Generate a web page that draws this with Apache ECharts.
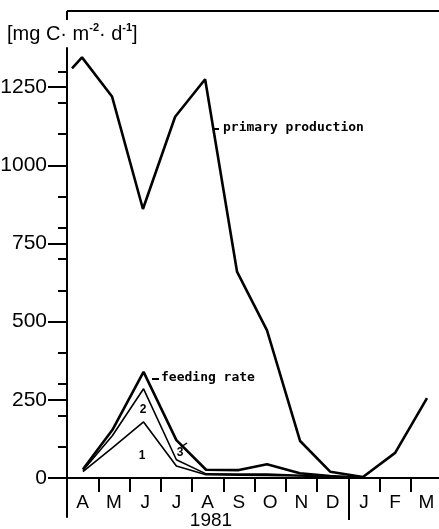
<!DOCTYPE html>
<html>
<head>
<meta charset="utf-8">
<script src="https://cdn.jsdelivr.net/npm/echarts@6/dist/echarts.min.js"></script>
<style>html,body{margin:0;padding:0;background:#fff}#c{width:439px;height:529px}</style>
</head>
<body>
<div id="c"></div>
<script>
// Time in months since 1 April 1981
var monthLabels = ['A','M','J','J','A','S','O','N','D','J','F','M'];
var yTickLabels = [0, 250, 500, 750, 1000, 1250];
var yMinorTicks = [100, 200, 300, 400, 600, 700, 800, 900, 1100, 1200, 1300];

var ppTime  = [0.16, 0.48, 1.44, 2.43, 3.46, 4.42, 5.44, 6.40, 7.46, 8.42, 9.47, 10.50, 11.52];
var ppValue = [1310, 1345, 1220, 860, 1155, 1275, 660, 472, 118, 20, 3, 80, 255];

var frTime   = [0.51, 1.45, 2.45, 3.5, 4.45, 5.5, 6.4, 7.45, 8.42, 9.2];
var frTotal  = [28, 153, 339, 121, 26, 25, 44, 15, 6, 2];
var fr2      = [24, 135, 285, 58, 13, 12, 12, 8, 4, 1];
var fr1      = [20, 96, 179, 38, 10, 9, 8, 6, 3, 1];

function pairs(t, v) { return t.map(function (x, i) { return [x, v[i]]; }); }

var chart = echarts.init(document.getElementById('c'));
var F = 'Liberation Sans, Arial, sans-serif';
var MONO = 'DejaVu Sans Mono, monospace';
var ZERO_OFFSET = -39; // distance from grid bottom (value -125) up to value 0

chart.setOption({
  animation: false,
  grid: { left: 67, top: 48, width: 375, height: 469, outerBoundsMode: 'none', containLabel: false },
  xAxis: [{
    type: 'value', min: 0, max: 12, position: 'bottom',
    axisLine: { show: true, onZero: true, lineStyle: { color: '#000', width: 2 } },
    axisTick: { show: true, customValues: [1,2,3,4,5,6,7,8,9,10,11], length: 14, lineStyle: { color: '#000', width: 2 } },
    axisLabel: { show: false },
    splitLine: { show: false }
  }, {
    type: 'value', min: 0, max: 12, position: 'bottom', offset: ZERO_OFFSET,
    axisLine: { show: false, onZero: false },
    axisTick: { show: true, customValues: [9], length: 42, lineStyle: { color: '#000', width: 2 } },
    axisLabel: { show: false },
    splitLine: { show: false }
  }, {
    type: 'category', position: 'bottom', boundaryGap: true, offset: ZERO_OFFSET,
    data: monthLabels.map(function (m, i) { return String(i); }),
    axisLine: { show: false, onZero: false },
    axisTick: { show: false },
    axisLabel: { show: true, interval: 0,
      formatter: function (v) { return monthLabels[+v]; },
      color: '#000', fontFamily: F, fontSize: 19, margin: 15 },
    splitLine: { show: false }
  }],
  yAxis: [{
    type: 'value', min: -125, max: 1375, position: 'left',
    axisLine: { show: true, onZero: false, lineStyle: { color: '#000', width: 2 } },
    axisTick: { show: true, customValues: yTickLabels, length: 19, lineStyle: { color: '#000', width: 2 } },
    axisLabel: { show: true, customValues: yTickLabels, formatter: function (v) { return String(v); },
      color: '#000', fontFamily: F, fontSize: 21, margin: 20 },
    splitLine: { show: false }
  }, {
    type: 'value', min: -125, max: 1375, position: 'left',
    axisLine: { show: false, onZero: false },
    axisTick: { show: true, customValues: yMinorTicks, length: 9, lineStyle: { color: '#000', width: 2 } },
    axisLabel: { show: false },
    splitLine: { show: false }
  }],
  series: [
    { type: 'line', name: 'primary production', data: pairs(ppTime, ppValue), symbol: 'none',
      lineStyle: { color: '#000', width: 2.6 } },
    { type: 'line', name: 'feeding rate', data: pairs(frTime, frTotal), symbol: 'none',
      lineStyle: { color: '#000', width: 2.6 } },
    { type: 'line', name: '2', data: pairs(frTime, fr2), symbol: 'none',
      lineStyle: { color: '#000', width: 1.6 } },
    { type: 'line', name: '1', data: pairs(frTime, fr1), symbol: 'none',
      lineStyle: { color: '#000', width: 1.6 } }
  ],
  graphic: [
    { type: 'line', shape: { x1: 67, y1: 11, x2: 439, y2: 11 }, style: { stroke: '#000', lineWidth: 2 } },
    { type: 'line', shape: { x1: 67, y1: 11, x2: 67, y2: 20 }, style: { stroke: '#000', lineWidth: 2 } },
    { type: 'text', left: 7, top: 22, style: {
        text: '{a|[mg C· m}{s|-2}{a|· d}{s|-1}{a|]}',
        rich: {
          a: { fontFamily: F, fontSize: 20, fill: '#000', lineHeight: 22, verticalAlign: 'bottom' },
          s: { fontFamily: F, fontSize: 11, fontWeight: 'bold', fill: '#000', lineHeight: 22, verticalAlign: 'top' }
        } } },
    { type: 'text', x: 211, y: 521, style: { text: '1981', fontFamily: F, fontSize: 19, fill: '#000', align: 'center', verticalAlign: 'middle' } },
    { type: 'line', shape: { x1: 213, y1: 129, x2: 219, y2: 129 }, style: { stroke: '#000', lineWidth: 2 } },
    { type: 'text', x: 223, y: 128, style: { text: 'primary production', fontFamily: MONO, fontWeight: 'bold', fontSize: 13, fill: '#000', verticalAlign: 'middle' } },
    { type: 'line', shape: { x1: 152, y1: 379, x2: 159, y2: 379 }, style: { stroke: '#000', lineWidth: 2 } },
    { type: 'text', x: 161, y: 378, style: { text: 'feeding rate', fontFamily: MONO, fontWeight: 'bold', fontSize: 13, fill: '#000', verticalAlign: 'middle' } },
    { type: 'text', x: 143, y: 410, style: { text: '2', fontFamily: F, fontWeight: 'bold', fontSize: 12, fill: '#000', align: 'center', verticalAlign: 'middle' } },
    { type: 'text', x: 142, y: 456, style: { text: '1', fontFamily: F, fontWeight: 'bold', fontSize: 12, fill: '#000', align: 'center', verticalAlign: 'middle' } },
    { type: 'text', x: 180, y: 453, style: { text: '3', fontFamily: F, fontWeight: 'bold', fontSize: 12, fill: '#000', align: 'center', verticalAlign: 'middle' } },
    { type: 'line', shape: { x1: 181, y1: 447, x2: 187, y2: 443 }, style: { stroke: '#000', lineWidth: 1.5 } }
  ]
});
</script>
</body>
</html>
